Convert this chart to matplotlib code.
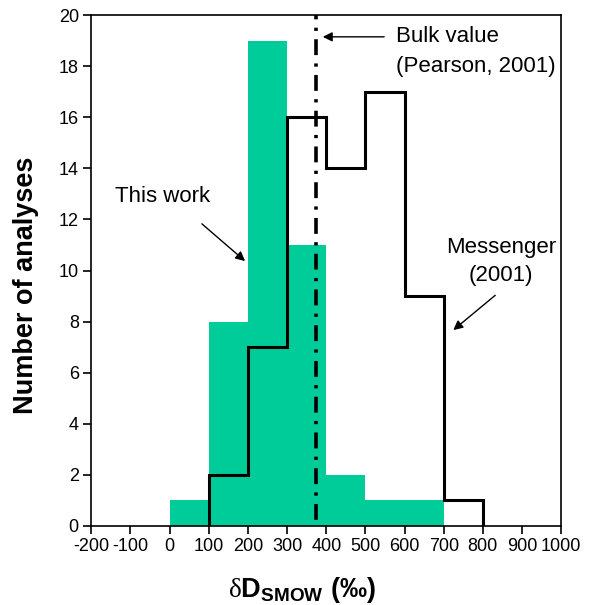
import matplotlib
matplotlib.use("Agg")
import matplotlib.pyplot as plt
import numpy as np

plt.rcParams['font.family'] = ['Liberation Sans', 'DejaVu Sans']
plt.rcParams['mathtext.fontset'] = 'custom'
plt.rcParams['mathtext.rm'] = 'Liberation Serif'
plt.rcParams['mathtext.bf'] = 'Liberation Sans:bold'
plt.rcParams['mathtext.it'] = 'Liberation Sans:italic'
plt.rcParams['mathtext.sf'] = 'Liberation Sans'

bin_edges = [0, 100, 200, 300, 400, 500, 600, 700, 800]
this_work = [1, 8, 19, 11, 2, 1, 1, 0]
messenger = [0, 2, 7, 16, 14, 17, 9, 1]
bulk_value = 375
xticks = [-200, -100, 0, 100, 200, 300, 400, 500, 600, 700, 800, 900, 1000]
yticks = [0, 2, 4, 6, 8, 10, 12, 14, 16, 18, 20]

fig = plt.figure(figsize=(5.97, 6.05), dpi=100)
ax = fig.add_axes([0.153, 0.1306, 0.787, 0.8444])

edges = np.array(bin_edges)
ax.bar(edges[:-1], this_work, width=np.diff(edges), align='edge', color='#00CC99', edgecolor='none', zorder=1)

# Messenger step outline
mx = [edges[1]]
my = [0]
for i in range(1, len(messenger)):
    mx += [edges[i], edges[i + 1]]
    my += [messenger[i], messenger[i]]
mx.append(edges[-1]); my.append(0)
ax.plot(mx, my, color='black', lw=2.2, solid_joinstyle='miter', zorder=3)

ax.axvline(bulk_value, color='black', lw=2.6, linestyle=(8.2, (4.4, 2.3, 0.9, 2.3)), zorder=4)

ax.set_xlim(-200, 1000)
ax.set_ylim(0, 20)
ax.set_xticks(xticks)
ax.set_xticklabels([str(t) for t in xticks])
ax.set_yticks(yticks)
ax.tick_params(direction='out', length=6, width=1.2, labelsize=13, top=False, right=False, pad=3)
for s in ax.spines.values():
    s.set_linewidth(1.2)

ax.set_ylabel('Number of analyses', fontsize=19.5, fontweight='bold')
ax.yaxis.set_label_coords(-0.111, 0.472)
ax.set_xlabel(r'$\mathrm{\delta}\mathbf{D_{SMOW}}$ (‰)', fontsize=19.5, fontweight='bold')
ax.xaxis.set_label_coords(0.448, -0.095)

ax.annotate('', xy=(384, 19.15), xytext=(555, 19.15),
            arrowprops=dict(arrowstyle='-|>', color='black', lw=1, mutation_scale=14))
ax.text(578, 19.15, 'Bulk value', fontsize=16, va='center', ha='left')
ax.text(578, 18.0, '(Pearson, 2001)', fontsize=16, va='center', ha='left')

ax.text(-17, 12.9, 'This work', fontsize=16, va='center', ha='center')
ax.annotate('', xy=(198, 10.3), xytext=(77, 11.9),
            arrowprops=dict(arrowstyle='-|>', color='black', lw=1, mutation_scale=14))

ax.text(847, 10.92, 'Messenger', fontsize=16, va='center', ha='center')
ax.text(847, 9.82, '(2001)', fontsize=16, va='center', ha='center')
ax.annotate('', xy=(719, 7.6), xytext=(837, 9.1),
            arrowprops=dict(arrowstyle='-|>', color='black', lw=1, mutation_scale=14))

fig.savefig('out.png', dpi=100)
